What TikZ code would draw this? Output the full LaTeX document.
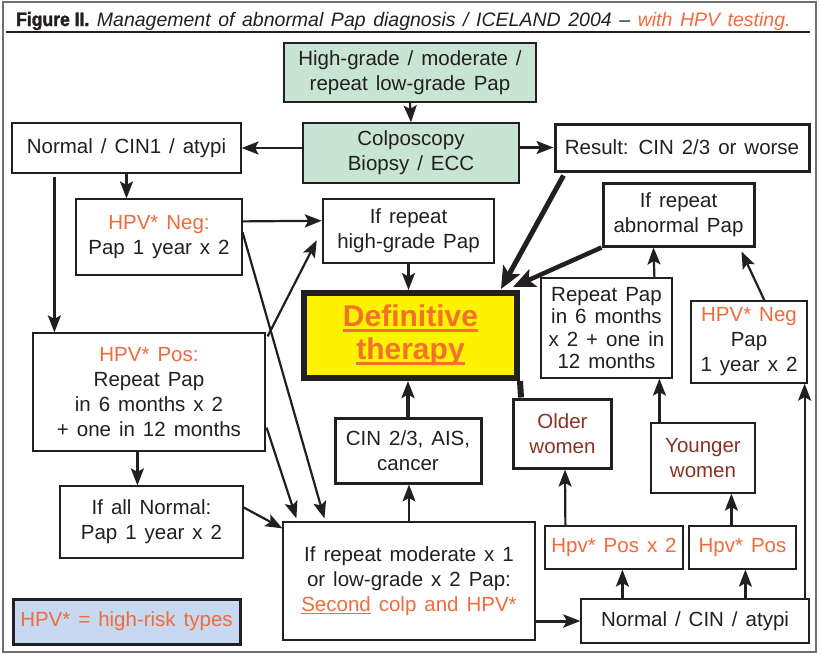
\documentclass[tikz,border=0pt]{standalone}
\usepackage{fontspec}
\setmainfont{Liberation Sans}[WordSpace=1.4]
\newfontfamily\figfont{Liberation Sans}[FakeStretch=0.9, FakeBold=1.5]
\usetikzlibrary{arrows.meta,calc}
\definecolor{hpvorange}{HTML}{F26B3D}
\definecolor{therapyorange}{HTML}{F2722C}
\definecolor{colpgreen}{HTML}{C8E5D3}
\definecolor{legendblue}{HTML}{C6D9F0}
\definecolor{therapyyellow}{HTML}{FFF200}
\definecolor{womenred}{HTML}{8A3324}
\definecolor{inkgray}{HTML}{231F20}
\definecolor{framegray}{HTML}{6D6E71}
\newsavebox{\ulbox}
\newcommand{\ulbar}[3]{\sbox{\ulbox}{#3}\rlap{\rule[-#1]{\wd\ulbox}{#2}}\usebox{\ulbox}}
\newcommand{\hpvtxt}[1]{\textcolor{hpvorange}{#1}}
\begin{document}
\begin{tikzpicture}[x=1pt,y=-1pt,
  box/.style={draw=inkgray, line width=1.2pt, fill=white, text=inkgray, align=center, inner sep=0pt, font=\fontsize{20.5}{25}\selectfont},
  thickbox/.style={box, line width=3pt},
  greenbox/.style={box, fill=colpgreen},
  arr/.style={draw=inkgray, line width=2.2pt, -{Stealth[length=17pt,width=13pt,inset=3.5pt]}},
  heavyarr/.style={draw=inkgray, line width=5pt, -{Stealth[length=22pt,width=19pt,inset=5pt]}}]
\useasboundingbox (0,0) rectangle (821,654);
\draw[framegray, line width=1.5pt] (3,2) rectangle (816,652);
\node[anchor=base west, inner sep=0pt, text=inkgray, font=\fontsize{19.5}{22}\selectfont] (title) at (16,26) {{\figfont\bfseries Figure II.} \textit{Management of abnormal Pap diagnosis / ICELAND 2004 -- \textcolor{hpvorange}{with HPV testing.}}};
\draw[inkgray, line width=1.5pt] (6,32) -- (810,32);

\node[greenbox, minimum width=252pt, minimum height=59pt] (hgrade) at (410,72.5) {High-grade / moderate /\\repeat low-grade Pap};
\node[greenbox, minimum width=216pt, minimum height=60pt] (colpo) at (411,153) {Colposcopy\\Biopsy / ECC};
\node[box, minimum width=229pt, minimum height=50pt] (normA) at (126.5,148) {Normal / CIN1 / atypi};
\node[thickbox, minimum width=254pt, minimum height=47pt] (result) at (682,147.5) {Result: CIN 2/3 or worse};
\node[box, minimum width=166pt, minimum height=76pt] (hpvnegA) at (159,237) {\hpvtxt{HPV* Neg:}\\Pap 1 year x 2};
\node[thickbox, line width=2.5pt, minimum width=171pt, minimum height=64pt] (rephigh) at (408.5,231) {If repeat\\high-grade Pap};
\node[box, line width=6pt, fill=therapyyellow, text=therapyorange, minimum width=213pt, minimum height=85pt, font=\fontsize{30}{33}\selectfont\bfseries] (defin) at (410.5,335.5) {\ulbar{5pt}{2.5pt}{Definitive}\\\ulbar{5pt}{2.5pt}{therapy}};
\node[thickbox, minimum width=151pt, minimum height=63pt] (repabn) at (678.5,214.5) {If repeat\\abnormal Pap};
\node[box, minimum width=131pt, minimum height=100pt, font=\fontsize{20.5}{22.5}\selectfont] (reppapB) at (606.5,328) {Repeat Pap\\in 6 months\\x 2 + one in\\12 months};
\node[box, minimum width=116pt, minimum height=82pt] (hpvnegB) at (749,342) {\hpvtxt{HPV* Neg}\\Pap\\1 year x 2};
\node[box, minimum width=232pt, minimum height=118pt] (hpvpos) at (149,392) {\hpvtxt{HPV* Pos:}\\Repeat Pap\\in 6 months x 2\\+ one in 12 months};
\node[box, minimum width=183pt, minimum height=72pt] (allnorm) at (151.5,522) {If all Normal:\\Pap 1 year x 2};
\node[thickbox, fill=legendblue, text=hpvorange, minimum width=227pt, minimum height=45pt] (legend) at (126.5,621.5) {HPV* = high-risk types};
\node[box, minimum width=252pt, minimum height=118pt] (repmod) at (409,581) {If repeat moderate x 1\\or low-grade x 2 Pap:\\\hpvtxt{\ulbar{3pt}{1.2pt}{Second} colp and HPV*}};
\node[thickbox, minimum width=146pt, minimum height=65pt] (cin23) at (408,450.5) {CIN 2/3, AIS,\\cancer};
\node[thickbox, text=womenred, minimum width=98pt, minimum height=69pt] (older) at (562.5,433.5) {Older\\women};
\node[box, text=womenred, minimum width=104pt, minimum height=70pt] (younger) at (703,458) {Younger\\women};
\node[box, text=hpvorange, minimum width=138pt, minimum height=43pt] (posx2) at (614,547.5) {Hpv* Pos x 2};
\node[box, text=hpvorange, minimum width=107pt, minimum height=43pt] (posone) at (742.5,547.5) {Hpv* Pos};
\node[box, minimum width=228pt, minimum height=44pt] (normB) at (695,621) {Normal / CIN / atypi};

\draw[arr] (hgrade.south) -- (colpo.north);
\draw[arr] (colpo.west |- normA) -- (normA.east);
\draw[arr] (colpo.east |- result) -- (result.west);
\draw[arr] (normA.south) -- (normA.south |- hpvnegA.north);
\draw[arr] ($(normA.south west)+(43,3)$) -- ($(hpvpos.north west)+(22,0)$);
\draw[arr] ($(hpvnegA.north east)+(0,23)$) -- ($(rephigh.north west)+(0,23)$);
\draw[arr] ($(hpvnegA.north east)+(0,34)$) -- ($(repmod.north west)+(42,-3)$);
\draw[arr] ($(hpvpos.north east)+(2,4)$) -- ($(rephigh.south west)+(-5,-24)$);
\draw[arr] ($(hpvpos.south east)+(1,-24)$) -- ($(repmod.north west)+(14,-3)$);
\draw[arr] ($(hpvpos.south west)+(105,0)$) -- ($(allnorm.north west)+(78,0)$);
\draw[arr] ($(allnorm.north east)+(0,22)$) -- ($(repmod.north west)+(0,7)$);
\draw[arr] (rephigh.south) -- (rephigh.south |- defin.north);
\draw[heavyarr] ($(result.south west)+(10,3)$) -- ($(defin.north east)+(-19,-1)$);
\draw[heavyarr, line width=4.5pt] (repabn.south west) -- ($(defin.north east)+(-7,-3)$);
\draw[draw=inkgray, line width=6pt] ($(older.north west)+(9,0)$) -- (defin.south east);
\draw[arr, line width=4pt] (cin23.north) -- (cin23.north |- defin.south);
\draw[arr] (repmod.north) -- (repmod.north |- cin23.south);
\draw[arr, line width=3pt] (repmod.east |- normB) -- (normB.west);
\draw[arr] ($(normB.north west)+(42,0)$) -- ($(posx2.south west)+(78,0)$);
\draw[arr] ($(normB.north west)+(165,0)$) -- ($(posone.south west)+(57,0)$);
\draw[arr] ($(posx2.north west)+(21,0)$) -- ($(older.south west)+(53,0)$);
\draw[arr] ($(posone.north west)+(43,0)$) -- ($(younger.south west)+(81,0)$);
\draw[arr] ($(younger.north west)+(9,0)$) -- ($(reppapB.south west)+(119,0)$);
\draw[arr] ($(reppapB.north west)+(114,0)$) -- ($(repabn.south west)+(52,0)$);
\draw[arr] ($(hpvnegB.north west)+(74,0)$) -- ($(repabn.south east)+(-14,4)$);
\draw[arr] ($(normB.north east)+(-5,0)$) -- ($(hpvnegB.south east)+(-3,0)$);
\end{tikzpicture}
\end{document}
